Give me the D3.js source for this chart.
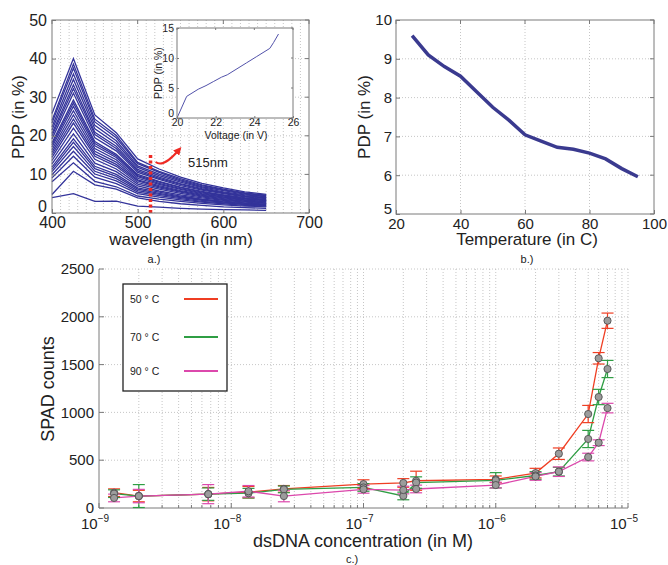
<!DOCTYPE html>
<html><head><meta charset="utf-8">
<script src="https://cdn.jsdelivr.net/npm/d3@7"></script>
<style>body{margin:0;background:#fff} text{font-family:"Liberation Sans",Arial,Helvetica,sans-serif;fill:#222}</style>
</head><body><svg id="c" width="668" height="565"></svg>
<script>
// ---------- Panel a: PDP vs wavelength ----------
const wavelengths = [400,425,450,475,500,525,550,575,600,625,650];
const pdpCurves = [
  [4.0, 5.0, 3.0, 3.1, 1.8, 1.5, 1.2, 1.0, 0.9, 0.8, 0.7],
  [4.8, 10.8, 7.3, 6.2, 3.9, 3.0, 2.4, 2.0, 1.6, 1.4, 1.2],
  [8.1, 13, 8.2, 6.8, 4.4, 3.6, 3.0, 2.5, 2.1, 1.8, 1.6],
  [9.1, 14.7, 9.3, 7.6, 5.0, 4.1, 3.4, 2.8, 2.4, 2.0, 1.8],
  [9.9, 16, 10.1, 8.3, 5.4, 4.5, 3.7, 3.0, 2.6, 2.2, 1.9],
  [10.7, 17.2, 10.8, 8.9, 5.8, 4.8, 4.0, 3.3, 2.8, 2.3, 2.1],
  [11.3, 18.3, 11.5, 9.5, 6.2, 5.1, 4.2, 3.5, 2.9, 2.5, 2.2],
  [11.9, 19.2, 12.1, 10.0, 6.5, 5.4, 4.4, 3.6, 3.1, 2.6, 2.3],
  [12.7, 20.5, 12.9, 10.7, 7.0, 5.7, 4.7, 3.9, 3.3, 2.8, 2.5],
  [13.6, 22, 13.9, 11.4, 7.5, 6.2, 5.1, 4.2, 3.5, 3.0, 2.6],
  [14.4, 23.3, 14.7, 12.1, 7.9, 6.5, 5.4, 4.4, 3.7, 3.1, 2.8],
  [15.1, 24.3, 15.3, 12.6, 8.3, 6.8, 5.6, 4.6, 3.9, 3.3, 2.9],
  [15.7, 25.4, 16.0, 13.2, 8.6, 7.1, 5.8, 4.8, 4.1, 3.4, 3.0],
  [16.4, 26.5, 16.7, 13.8, 9.0, 7.4, 6.1, 5.0, 4.2, 3.6, 3.2],
  [17.1, 27.6, 17.4, 14.4, 9.4, 7.7, 6.3, 5.2, 4.4, 3.7, 3.3],
  [17.7, 28.5, 18.0, 14.8, 9.7, 8.0, 6.6, 5.4, 4.6, 3.8, 3.4],
  [18.2, 29.3, 18.5, 15.2, 10.0, 8.2, 6.7, 5.6, 4.7, 4.0, 3.5],
  [19.2, 31, 19.5, 16.1, 10.5, 8.7, 7.1, 5.9, 5.0, 4.2, 3.7],
  [20.0, 32.2, 20.3, 16.7, 10.9, 9.0, 7.4, 6.1, 5.2, 4.3, 3.9],
  [20.6, 33.2, 20.9, 17.3, 11.3, 9.3, 7.6, 6.3, 5.3, 4.5, 4.0],
  [21.5, 34.6, 21.8, 18.0, 11.8, 9.7, 8.0, 6.6, 5.5, 4.7, 4.2],
  [22.3, 36, 22.7, 18.7, 12.2, 10.1, 8.3, 6.8, 5.8, 4.9, 4.3],
  [23.3, 37.5, 23.6, 19.5, 12.8, 10.5, 8.6, 7.1, 6.0, 5.1, 4.5],
  [24.0, 38.6, 24.3, 20.1, 13.1, 10.8, 8.9, 7.3, 6.2, 5.2, 4.6],
  [25.8, 40, 25.4, 20.8, 14.0, 11.4, 9.3, 7.7, 6.5, 5.5, 4.8]
];
const markWavelength = 515;
const markTop = 15.3;
const aXTicks = [400,500,600,700];
const aYTicks = [0,10,20,30,40,50];

// Inset: PDP vs voltage
const insetVoltage = [20, 20.5, 21.1, 21.5, 21.9, 22.3, 22.6, 23.0, 23.6, 24.1, 24.8, 25.0, 25.25];
const insetPDP     = [0, 3.6, 4.8, 5.4, 6.1, 6.8, 7.2, 8.0, 9.2, 10.2, 11.6, 12.6, 14.0];
const insetXTicks = [20,22,24,26];
const insetYTicks = [0,5,10,15];

// ---------- Panel b: PDP vs temperature ----------
const temperature = [25, 30, 35, 40, 45, 50, 55, 60, 65, 70, 75, 80, 85, 90, 95];
const pdpTemp     = [9.6, 9.1, 8.8, 8.55, 8.15, 7.75, 7.42, 7.04, 6.88, 6.72, 6.67, 6.57, 6.42, 6.17, 5.96];
const bXTicks = [20,40,60,80,100];
const bYTicks = [5,6,7,8,9,10];

// ---------- Panel c: SPAD counts vs dsDNA concentration ----------
const concentration = [1.3e-9, 2e-9, 6.7e-9, 1.35e-8, 2.5e-8, 1e-7, 2e-7, 2.5e-7, 1e-6, 2e-6, 3e-6, 5e-6, 6e-6, 7e-6];
const seriesNames = ["50 ° C", "70 ° C", "90 ° C"];
const counts50 = [160, 125, 145, 165, 200, 250, 262, 285, 300, 365, 568, 983, 1566, 1959];
const counts70 = [150, 125, 145, 155, 195, 215, 126, 266, 290, 340, 380, 722, 1161, 1454];
const counts90 = [105, 125, 145, 175, 125, 195, 188, 199, 240, 330, 380, 533, 683, 1045];
const err50 = [40, 60, 70, 60, 35, 45, 45, 100, 35, 50, 60, 90, 60, 80];
const err70 = [40, 120, 65, 50, 35, 40, 40, 60, 80, 40, 45, 90, 80, 90];
const err90 = [40, 70, 100, 60, 60, 40, 40, 40, 30, 40, 50, 40, 30, 50];
const seriesColors = ["#ef3e23", "#2f9e44", "#dc48ac"];
const cYTicks = [0,500,1000,1500,2000,2500];
const cXExponents = [-9,-8,-7,-6,-5];

const svg = d3.select("#c");
const gridColor = "#b8b8b8";
const axisColor = "#7a7a7a";

function vGrid(g, xs, x, y0, y1) {
  g.selectAll(null).data(xs).enter().append("line")
    .attr("x1", d => x(d)).attr("x2", d => x(d)).attr("y1", y0).attr("y2", y1)
    .attr("stroke", gridColor).attr("stroke-width", 0.8).attr("stroke-dasharray", "1,2");
}
function hGrid(g, ys, y, x0, x1) {
  g.selectAll(null).data(ys).enter().append("line")
    .attr("y1", d => y(d)).attr("y2", d => y(d)).attr("x1", x0).attr("x2", x1)
    .attr("stroke", gridColor).attr("stroke-width", 0.8).attr("stroke-dasharray", "1,2");
}
function boxAxes(g, x, y, xt, yt, fs, tick, xoff, yoff, lift) {
  const [x0, x1] = x.range(), [y0, y1] = y.range();
  const bx = g.append("g").attr("transform", `translate(0,${y0})`)
    .call(d3.axisBottom(x).tickValues(xt).tickFormat(d => String(d)).tickSizeInner(-tick).tickSizeOuter(0).tickPadding(xoff));
  const by = g.append("g").attr("transform", `translate(${x0},0)`)
    .call(d3.axisLeft(y).tickValues(yt).tickFormat(d => String(d)).tickSizeInner(-tick).tickSizeOuter(0).tickPadding(yoff));
  [bx, by].forEach(a => {
    a.select(".domain").remove();
    a.selectAll(".tick line").attr("stroke", axisColor);
    a.selectAll(".tick text").attr("font-size", fs).attr("fill", "#222")
      .attr("font-family", '"Liberation Sans",Arial,sans-serif');
  });
  by.selectAll(".tick text").filter(d => d === yt[0]).attr("y", -lift);
  g.selectAll(null).data(xt).enter().append("line")
    .attr("x1", d => x(d)).attr("x2", d => x(d)).attr("y1", y1).attr("y2", y1 + tick).attr("stroke", axisColor);
  g.selectAll(null).data(yt).enter().append("line")
    .attr("y1", d => y(d)).attr("y2", d => y(d)).attr("x1", x1).attr("x2", x1 - tick).attr("stroke", axisColor);
  g.append("rect").attr("x", x0).attr("y", y1).attr("width", x1 - x0).attr("height", y0 - y1)
    .attr("fill", "none").attr("stroke", axisColor).attr("stroke-width", 1);
}

// ===== Panel a =====
{
  const g = svg.append("g");
  const x = d3.scaleLinear().domain([400,700]).range([52,309]);
  const y = d3.scaleLinear().domain([0,50]).range([213,20]);
  vGrid(g, d3.range(410, 700, 10), x, 20, 213);
  hGrid(g, [10,20,30,40], y, 52, 309);
  const line = d3.line().x((d,i) => x(wavelengths[i])).y(d => y(d));
  g.selectAll(null).data(pdpCurves).enter().append("path")
    .attr("d", line).attr("fill", "none").attr("stroke", "#33339a").attr("stroke-width", 1.3);
  g.append("line").attr("x1", x(markWavelength)).attr("x2", x(markWavelength))
    .attr("y1", y(0)).attr("y2", y(markTop))
    .attr("stroke", "#ee2a24").attr("stroke-width", 3.5).attr("stroke-dasharray", "3,2.5");
  boxAxes(g, x, y, aXTicks, aYTicks, 16, 4, 4, 5, 7);
  svg.append("defs").append("marker").attr("id","ah").attr("viewBox","0 0 10 10")
    .attr("refX", 5).attr("refY", 5).attr("markerWidth", 4).attr("markerHeight", 4).attr("orient","auto")
    .append("path").attr("d","M0,0L10,5L0,10z").attr("fill","#ee2a24");
  g.append("path").attr("d", `M${x(521)},162 Q${x(530)},168 ${x(548)},150`)
    .attr("fill","none").attr("stroke","#ee2a24").attr("stroke-width",2).attr("marker-end","url(#ah)");
  g.append("text").attr("x", 188).attr("y", 167).attr("font-size", 13).text("515nm");
  g.append("text").attr("transform","translate(24,117) rotate(-90)").attr("text-anchor","middle")
    .attr("font-size", 17).text("PDP (in %)");
  g.append("text").attr("x", 181).attr("y", 245).attr("text-anchor","middle").attr("font-size", 17).text("wavelength (in nm)");
  g.append("text").attr("x", 154).attr("y", 263).attr("text-anchor","middle").attr("font-size", 11).text("a.)");

  const gi = svg.append("g");
  const xi = d3.scaleLinear().domain([20,26]).range([177,293]);
  const yi = d3.scaleLinear().domain([0,15]).range([118,28]);
  gi.append("rect").attr("x",177).attr("y",28).attr("width",116).attr("height",90).attr("fill","#fff");
  gi.append("path").datum(insetPDP)
    .attr("d", d3.line().x((d,i) => xi(insetVoltage[i])).y(d => yi(d)))
    .attr("fill","none").attr("stroke","#5252aa").attr("stroke-width",1);
  boxAxes(gi, xi, yi, insetXTicks, insetYTicks, 10.5, 2, 1, 3, 5);
  gi.append("text").attr("transform","translate(162,73) rotate(-90)").attr("text-anchor","middle")
    .attr("font-size", 10.5).text("PDP (in %)");
  gi.append("text").attr("x", 236).attr("y", 139).attr("text-anchor","middle").attr("font-size", 10.5).text("Voltage (in V)");
}

// ===== Panel b =====
{
  const g = svg.append("g");
  const x = d3.scaleLinear().domain([20,100]).range([396,654]);
  const y = d3.scaleLinear().domain([5,10]).range([214,20]);
  vGrid(g, [40,60,80], x, 20, 214);
  hGrid(g, [6,7,8,9], y, 396, 654);
  g.append("path").datum(pdpTemp)
    .attr("d", d3.line().x((d,i) => x(temperature[i])).y(d => y(d)))
    .attr("fill","none").attr("stroke","#3a3a8f").attr("stroke-width",3.5);
  boxAxes(g, x, y, bXTicks, bYTicks, 15, 4, 4, 4, 5);
  g.append("text").attr("transform","translate(370,117) rotate(-90)").attr("text-anchor","middle")
    .attr("font-size", 17).text("PDP (in %)");
  g.append("text").attr("x", 527).attr("y", 245).attr("text-anchor","middle").attr("font-size", 17).text("Temperature (in C)");
  g.append("text").attr("x", 527).attr("y", 263).attr("text-anchor","middle").attr("font-size", 11).text("b.)");
}

// ===== Panel c =====
{
  const g = svg.append("g");
  const x = d3.scaleLog().domain([1e-9,1e-5]).range([99,628]);
  const y = d3.scaleLinear().domain([0,2500]).range([508,269]);
  const minors = [];
  cXExponents.slice(0,-1).forEach(e => { for (let m = 2; m <= 9; m++) minors.push(m * Math.pow(10, e)); });
  const majors = cXExponents.map(e => Math.pow(10, e));
  vGrid(g, minors.concat(majors.slice(1)), x, 269, 508);
  hGrid(g, cYTicks.slice(1), y, 99, 628);
  g.append("line").attr("x1",99).attr("x2",628).attr("y1",508).attr("y2",508).attr("stroke",axisColor);
  g.append("line").attr("x1",99).attr("x2",99).attr("y1",269).attr("y2",508).attr("stroke",axisColor);
  g.selectAll(null).data(minors).enter().append("line")
    .attr("x1", d => x(d)).attr("x2", d => x(d)).attr("y1", 508).attr("y2", 505).attr("stroke", axisColor);
  g.selectAll(null).data(majors).enter().append("line")
    .attr("x1", d => x(d)).attr("x2", d => x(d)).attr("y1", 508).attr("y2", 503).attr("stroke", axisColor);
  g.selectAll(null).data(cYTicks).enter().append("line")
    .attr("y1", d => y(d)).attr("y2", d => y(d)).attr("x1", 99).attr("x2", 104).attr("stroke", axisColor);
  g.selectAll(null).data(cYTicks).enter().append("text")
    .attr("x", 94).attr("y", d => y(d)).attr("dy", "0.35em").attr("text-anchor","end").attr("font-size", 15).text(d => d);
  const xl = g.selectAll(null).data(cXExponents).enter().append("text")
    .attr("x", d => x(Math.pow(10,d)) - 4).attr("y", 529).attr("text-anchor","middle").attr("font-size", 15);
  xl.append("tspan").text("10");
  xl.append("tspan").attr("dy", -7).attr("font-size", 10).text(d => "\u2212" + Math.abs(d));

  const allCounts = [counts50, counts70, counts90];
  const allErr = [err50, err70, err90];
  const line = d3.line().x((d,i) => x(concentration[i])).y(d => y(d));
  allCounts.forEach((s, k) => {
    g.append("path").datum(s).attr("d", line).attr("fill","none")
      .attr("stroke", seriesColors[k]).attr("stroke-width", 1.3);
  });
  allCounts.forEach((s, k) => {
    const eg = g.append("g").attr("stroke", seriesColors[k]).attr("stroke-width", 1.2);
    s.forEach((v, i) => {
      const cx = x(concentration[i]), e = allErr[k][i];
      const lo = Math.max(v - e, 0);
      eg.append("line").attr("x1",cx).attr("x2",cx).attr("y1",y(v+e)).attr("y2",y(lo));
      eg.append("line").attr("x1",cx-6).attr("x2",cx+6).attr("y1",y(v+e)).attr("y2",y(v+e));
      eg.append("line").attr("x1",cx-6).attr("x2",cx+6).attr("y1",y(lo)).attr("y2",y(lo));
    });
  });
  allCounts.forEach((s, k) => {
    g.selectAll(null).data(s).enter().append("circle")
      .attr("cx", (d,i) => x(concentration[i])).attr("cy", d => y(d)).attr("r", 3.6)
      .attr("fill", "#9c9c9c").attr("stroke", "#505050").attr("stroke-width", 0.9);
  });
  const lg = g.append("g");
  lg.append("rect").attr("x",123).attr("y",284).attr("width",104).attr("height",107)
    .attr("fill","#fff").attr("stroke","#222").attr("stroke-width",1.3);
  const ly = [299, 337, 371];
  seriesNames.forEach((n, k) => {
    lg.append("text").attr("x",130).attr("y",ly[k]).attr("dy","0.35em").attr("font-size",10.5).text(n);
    lg.append("line").attr("x1",184).attr("x2",218).attr("y1",ly[k]).attr("y2",ly[k])
      .attr("stroke",seriesColors[k]).attr("stroke-width",2.2);
  });
  g.append("text").attr("transform","translate(54,389) rotate(-90)").attr("text-anchor","middle")
    .attr("font-size", 18).text("SPAD counts");
  g.append("text").attr("x", 363).attr("y", 547).attr("text-anchor","middle").attr("font-size", 18).text("dsDNA concentration (in M)");
  g.append("text").attr("x", 352).attr("y", 563).attr("text-anchor","middle").attr("font-size", 11).text("c.)");
}
</script></body></html>
